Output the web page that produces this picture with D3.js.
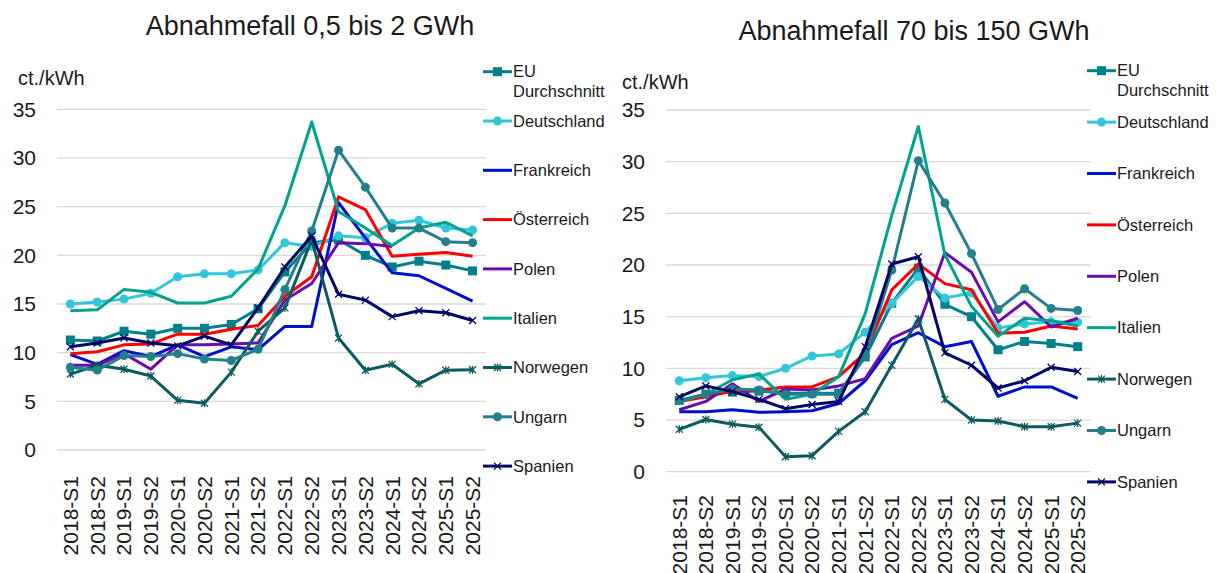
<!DOCTYPE html>
<html><head><meta charset="utf-8">
<script src="https://cdn.jsdelivr.net/npm/d3@7"></script>
<style>
html,body{margin:0;padding:0;background:#fff;}
svg{display:block;font-family:"Liberation Sans",Arial,Helvetica,sans-serif;}
</style></head>
<body><svg id="chart" width="1222" height="573"></svg>
<script>
const categories = ["2018-S1","2018-S2","2019-S1","2019-S2","2020-S1","2020-S2","2021-S1","2021-S2","2022-S1","2022-S2","2023-S1","2023-S2","2024-S1","2024-S2","2025-S1","2025-S2"];
const yTicks = [0,5,10,15,20,25,30,35];
const seriesNames = ["EU Durchschnitt","Deutschland","Frankreich","Österreich","Polen","Italien","Norwegen","Ungarn","Spanien"];
const titles = ["Abnahmefall 0,5 bis 2 GWh","Abnahmefall 70 bis 150 GWh"];
const unitLabel = "ct./kWh";

// Chart 1: 0,5 bis 2 GWh
const eu1 = [11.3,11.2,12.2,11.9,12.5,12.5,12.9,14.5,18.3,21.3,21.6,20.0,18.8,19.4,19.0,18.4];
const de1 = [15.0,15.2,15.5,16.1,17.8,18.1,18.1,18.5,21.3,20.9,22.0,21.8,23.3,23.6,22.8,22.6];
const fr1 = [9.8,8.8,10.2,9.6,10.8,9.6,10.6,10.3,12.7,12.7,25.4,21.8,18.2,17.9,16.6,15.3];
const at1 = [9.9,10.1,10.8,10.9,11.9,11.9,12.4,12.8,15.8,17.8,26.0,24.7,19.9,20.1,20.3,19.9];
const pl1 = [8.7,8.7,9.9,8.3,10.8,10.8,10.9,11.0,15.4,17.1,21.3,21.2,20.9,null,null,null];
const it1 = [14.3,14.4,16.5,16.2,15.1,15.1,15.8,18.6,25.1,33.7,24.5,22.8,21.0,22.8,23.4,22.0];
const no1 = [7.8,8.7,8.3,7.6,5.1,4.8,8.0,12.2,14.6,21.6,11.5,8.2,8.8,6.8,8.2,8.25];
const hu1 = [8.5,8.2,9.7,9.6,9.9,9.35,9.2,10.35,16.5,22.5,30.8,27.0,22.8,22.8,21.4,21.3];
const es1 = [10.6,11.0,11.5,11.0,10.7,11.7,10.8,14.6,18.8,22.0,16.0,15.4,13.7,14.3,14.1,13.3];

// Chart 2: 70 bis 150 GWh
const eu2 = [6.9,7.5,7.7,7.8,7.6,7.6,7.6,11.1,16.3,19.7,16.2,15.0,11.8,12.6,12.4,12.1];
const de2 = [8.8,9.1,9.3,9.2,10.0,11.2,11.4,13.5,16.3,18.9,16.8,17.3,13.9,14.3,14.5,14.45];
const fr2 = [5.8,5.8,6.0,5.75,5.8,5.9,6.6,8.8,12.3,13.45,12.1,12.6,7.3,8.2,8.2,7.1];
const at2 = [6.8,7.25,7.8,7.9,8.2,8.2,9.2,11.5,17.6,20.1,18.2,17.6,13.4,13.5,14.1,13.8];
const pl2 = [6.0,6.8,8.5,6.8,8.0,7.9,8.3,9.0,12.9,14.1,21.2,19.3,14.5,16.45,14.0,14.85];
const it2 = [6.8,7.5,8.9,9.45,7.0,7.5,9.2,15.3,24.8,33.4,21.0,16.0,13.1,14.85,14.6,14.1];
const no2 = [4.1,5.05,4.6,4.3,1.45,1.55,3.9,5.8,10.3,14.8,7.0,5.0,4.9,4.35,4.35,4.7];
const hu2 = [6.9,7.5,8.0,7.9,7.5,7.5,7.5,11.2,19.5,30.1,26.0,21.1,15.7,17.7,15.8,15.6];
const es2 = [7.25,8.3,7.75,7.0,6.1,6.5,6.8,12.1,20.1,20.8,11.5,10.3,8.1,8.8,10.1,9.7];

const colors = ["#00808a","#33c6d6","#0010c8","#ff0000","#6a0dad","#00a38e","#0b5b60","#23808b","#020766"];
const markers = ["square","circle","none","none","none","none","star","circle","x"];

const chart1 = [eu1,de1,fr1,at1,pl1,it1,no1,hu1,es1];
const chart2 = [eu2,de2,fr2,at2,pl2,it2,no2,hu2,es2];

const svg = d3.select("#chart");

function drawMarker(g, type, x, y, color){
  if(type==="square"){
    g.append("rect").attr("x",x-4.5).attr("y",y-4.5).attr("width",9).attr("height",9).attr("fill",color);
  } else if(type==="circle"){
    g.append("circle").attr("cx",x).attr("cy",y).attr("r",4.5).attr("fill",color);
  } else if(type==="x"){
    g.append("path").attr("d",`M${x-3.5},${y-3.5}L${x+3.5},${y+3.5}M${x-3.5},${y+3.5}L${x+3.5},${y-3.5}`)
      .attr("stroke",color).attr("stroke-width",1.3).attr("fill","none");
  } else if(type==="star"){
    g.append("path").attr("d",`M${x-3.5},${y-3.5}L${x+3.5},${y+3.5}M${x-3.5},${y+3.5}L${x+3.5},${y-3.5}M${x},${y-4}L${x},${y+4}`)
      .attr("stroke",color).attr("stroke-width",1.3).attr("fill","none");
  }
}

function drawChart(cfg){
  const {data,x0,x1,y0,y35,title,titleX,titleY,unitX,unitY,tickX,labelTop,legX,legY,legStep,legFirstGap} = cfg;
  const g = svg.append("g");
  const x = d3.scaleBand().domain(categories).range([x0,x1]);
  const y = d3.scaleLinear().domain([0,35]).range([y0,y35]);

  // gridlines
  g.append("g").selectAll("line").data(yTicks).join("line")
    .attr("x1",x0).attr("x2",x1).attr("y1",d=>y(d)).attr("y2",d=>y(d))
    .attr("stroke","#d9d9d9").attr("stroke-width",1.3);

  // y axis labels via d3 axis
  const yAxis = g.append("g").attr("transform",`translate(${tickX},0)`)
    .call(d3.axisLeft(y).tickValues(yTicks).tickSize(0).tickPadding(0));
  yAxis.select(".domain").remove();
  yAxis.selectAll("text").attr("font-size",21).attr("fill","#1a1a1a").attr("font-family","Liberation Sans, Arial, sans-serif");

  // x axis labels
  const xAxis = g.append("g").attr("transform",`translate(0,${labelTop})`)
    .call(d3.axisBottom(x).tickSize(0).tickPadding(0));
  xAxis.select(".domain").remove();
  xAxis.selectAll("text").attr("font-size",21).attr("fill","#1a1a1a")
    .attr("font-family","Liberation Sans, Arial, sans-serif")
    .attr("transform","rotate(-90)").attr("text-anchor","end").attr("dx",0).attr("dy","0.35em").attr("y",0).attr("x",0);

  // title & unit
  g.append("text").attr("x",titleX).attr("y",titleY).attr("text-anchor","middle")
    .attr("font-size",27).attr("fill","#1a1a1a").text(title);
  g.append("text").attr("x",unitX).attr("y",unitY).attr("font-size",20).attr("fill","#1a1a1a").text(unitLabel);

  // lines
  const cx = d => x(d) + x.bandwidth()/2;
  data.forEach((vals,si)=>{
    const pts = vals.map((v,i)=>({c:categories[i],v}));
    const line = d3.line().defined(d=>d.v!=null).x(d=>cx(d.c)).y(d=>y(d.v));
    g.append("path").datum(pts).attr("d",line).attr("fill","none")
      .attr("stroke",colors[si]).attr("stroke-width",3).attr("stroke-linejoin","round");
    const mg = g.append("g");
    pts.filter(d=>d.v!=null).forEach(d=>drawMarker(mg,markers[si],cx(d.c),y(d.v),colors[si]));
  });

  // legend
  const lg = g.append("g");
  seriesNames.forEach((name,si)=>{
    const ly = legY + si*legStep + (si>0?legFirstGap:0);
    lg.append("line").attr("x1",legX).attr("x2",legX+29).attr("y1",ly).attr("y2",ly)
      .attr("stroke",colors[si]).attr("stroke-width",3);
    drawMarker(lg,markers[si],legX+14.5,ly,colors[si]);
    if(si===0){
      const t = lg.append("text").attr("x",legX+30).attr("y",ly).attr("dy","0.35em").attr("font-size",16.5).attr("fill","#1a1a1a");
      t.append("tspan").attr("x",legX+30).text("EU");
      t.append("tspan").attr("x",legX+30).attr("dy",20).text("Durchschnitt");
    } else {
      lg.append("text").attr("x",legX+30).attr("y",ly).attr("dy","0.35em").attr("font-size",16.5).attr("fill","#1a1a1a").text(name);
    }
  });
}

drawChart({data:chart1,x0:57,x1:486,y0:450,y35:109.3,title:titles[0],titleX:310,titleY:35,
  unitX:18,unitY:85,tickX:36,labelTop:476,legX:483,legY:71.7,legStep:49.3,legFirstGap:0});
drawChart({data:chart2,x0:666,x1:1091,y0:471.7,y35:110,title:titles[1],titleX:914,titleY:40,
  unitX:622,unitY:89,tickX:645,labelTop:495,legX:1087,legY:70.7,legStep:51.4,legFirstGap:0});
</script></body></html>
